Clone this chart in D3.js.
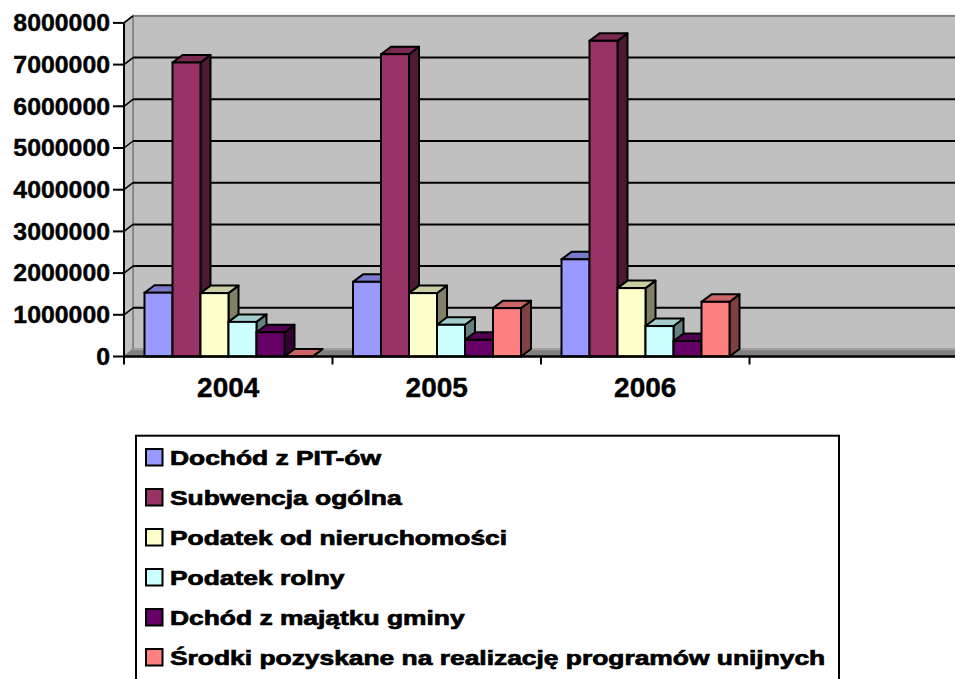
<!DOCTYPE html>
<html>
<head>
<meta charset="utf-8">
<script src="https://cdn.jsdelivr.net/npm/d3@7/dist/d3.min.js"></script>
<style>
  html, body { margin: 0; padding: 0; background: #ffffff; }
  svg { display: block; }
  text { font-family: "Liberation Sans", Arial, sans-serif; font-weight: bold; fill: #000; }
</style>
</head>
<body>
<svg id="chart" width="955" height="679"></svg>
<script>
// ---------- data ----------
const categories = ["2004", "2005", "2006"];
const seriesNames = [
  "Dochód z PIT-ów",
  "Subwencja ogólna",
  "Podatek od nieruchomości",
  "Podatek rolny",
  "Dchód z majątku gminy",
  "Środki pozyskane na realizację programów unijnych"
];
const pitValues       = [1530000, 1790000, 2330000];
const subwencjaValues = [7050000, 7250000, 7570000];
const nieruchValues   = [1520000, 1520000, 1640000];
const rolnyValues     = [830000, 760000, 730000];
const majatekValues   = [580000, 400000, 370000];
const unijneValues    = [0, 1160000, 1310000];
const seriesColors = ["#9999FF", "#993366", "#FFFFCC", "#CCFFFF", "#660066", "#FF8080"];
const yTicks = [0, 1000000, 2000000, 3000000, 4000000, 5000000, 6000000, 7000000, 8000000];

const seriesValues = [pitValues, subwencjaValues, nieruchValues, rolnyValues, majatekValues, unijneValues];

// ---------- layout ----------
const W = 955, H = 679;
const svg = d3.select("#chart");
const frontLeft = 124;
const bandW = 208.5;
const wallDx = 9, wallDy = -7;
const barDx = 10, barDy = -7.5;

const y = d3.scaleLinear().domain([0, 8000000]).range([356.5, 22.9]);
const x = d3.scaleBand().domain(categories).range([frontLeft, frontLeft + bandW * categories.length]).padding(0);
const xInner = d3.scaleBand().domain(seriesNames).range([20.5, 188.5]).padding(0);

// ---------- walls ----------
const backL = frontLeft + wallDx;
const backTop = y(8000000) + wallDy;
const backBot = y(0) + wallDy;

svg.append("rect")
  .attr("x", backL).attr("y", backTop)
  .attr("width", W - backL + 5).attr("height", backBot - backTop)
  .attr("fill", "#c0c0c0").attr("stroke", "#808080").attr("stroke-width", 2);

svg.append("path")
  .attr("d", `M${frontLeft},${y(8000000)} L${backL},${backTop} L${backL},${backBot} L${frontLeft},${y(0)} Z`)
  .attr("fill", "#c0c0c0").attr("stroke", "#808080").attr("stroke-width", 1.5);

svg.append("path")
  .attr("d", `M${frontLeft},${y(0)} L${backL},${backBot} L${W + 5},${backBot} L${W + 5},${y(0)} Z`)
  .attr("fill", "#808080").attr("stroke", "#a0a0a0").attr("stroke-width", 1.5);

const gridTicks = yTicks.filter(t => t > 0 && t < 8000000);
svg.append("g").selectAll("line.grid").data(gridTicks).join("line")
  .attr("x1", backL).attr("x2", W + 5)
  .attr("y1", d => y(d) + wallDy).attr("y2", d => y(d) + wallDy)
  .attr("stroke", "#000").attr("stroke-width", 2);
svg.append("g").selectAll("line.diag").data(yTicks).join("line")
  .attr("x1", frontLeft).attr("x2", backL)
  .attr("y1", d => y(d)).attr("y2", d => y(d) + wallDy)
  .attr("stroke", d => (d === 0 ? "#808080" : "#000")).attr("stroke-width", 1.5);

// ---------- bars ----------
function shade(c, k) {
  const r = d3.rgb(c);
  return d3.rgb(r.r * k, r.g * k, r.b * k).formatHex();
}

const barsG = svg.append("g");
categories.forEach((cat, ci) => {
  seriesNames.forEach((name, si) => {
    const v = seriesValues[si][ci];
    const x0 = x(cat) + xInner(name);
    const x1 = x0 + xInner.bandwidth();
    const yt = y(v), yb = y(0);
    const col = seriesColors[si];
    const g = barsG.append("g");
    g.append("path")
      .attr("d", `M${x1},${yb} L${x1},${yt} L${x1 + barDx},${yt + barDy} L${x1 + barDx},${yb + barDy} Z`)
      .attr("fill", shade(col, 0.5)).attr("stroke", "#000").attr("stroke-width", 2).attr("stroke-linejoin", "round");
    g.append("path")
      .attr("d", `M${x0},${yt} L${x0 + barDx},${yt + barDy} L${x1 + barDx},${yt + barDy} L${x1},${yt} Z`)
      .attr("fill", shade(col, 0.8)).attr("stroke", "#000").attr("stroke-width", 2).attr("stroke-linejoin", "round");
    if (v > 0) {
      g.append("rect")
        .attr("x", x0).attr("y", yt)
        .attr("width", xInner.bandwidth()).attr("height", yb - yt)
        .attr("fill", col).attr("stroke", "#000").attr("stroke-width", 2);
    }
  });
});

// ---------- axes ----------
svg.append("line")
  .attr("x1", frontLeft).attr("x2", frontLeft)
  .attr("y1", y(8000000)).attr("y2", y(0) + 1)
  .attr("stroke", "#000").attr("stroke-width", 2);
svg.append("g").selectAll("line").data(yTicks).join("line")
  .attr("x1", frontLeft - 11).attr("x2", frontLeft)
  .attr("y1", d => y(d)).attr("y2", d => y(d))
  .attr("stroke", "#000").attr("stroke-width", 2);
svg.append("g").selectAll("text").data(yTicks).join("text")
  .attr("transform", d => `translate(110,${y(d) + 8.2}) scale(1.08,1)`)
  .attr("text-anchor", "end")
  .attr("font-size", 23)
  .attr("stroke", "#000").attr("stroke-width", 0.4)
  .text(d => d3.format("d")(d));

svg.append("line")
  .attr("x1", frontLeft).attr("x2", W + 5)
  .attr("y1", y(0)).attr("y2", y(0))
  .attr("stroke", "#000").attr("stroke-width", 2.5);
const xTickPos = d3.range(categories.length + 2).map(i => frontLeft + i * bandW);
svg.append("g").selectAll("line").data(xTickPos).join("line")
  .attr("x1", d => d).attr("x2", d => d)
  .attr("y1", y(0)).attr("y2", y(0) + 8)
  .attr("stroke", "#000").attr("stroke-width", 2);
svg.append("g").selectAll("text").data(categories).join("text")
  .attr("x", d => x(d) + x.bandwidth() / 2)
  .attr("y", 396.7)
  .attr("text-anchor", "middle")
  .attr("font-size", 28)
  .attr("stroke", "#000").attr("stroke-width", 0.4)
  .text(d => d);

// ---------- legend ----------
const legend = svg.append("g");
legend.append("rect")
  .attr("x", 136).attr("y", 435.7)
  .attr("width", 839 - 136).attr("height", 260)
  .attr("fill", "#fff").attr("stroke", "#000").attr("stroke-width", 2);
const rows = legend.selectAll("g.row").data(seriesNames).join("g")
  .attr("transform", (d, i) => `translate(0,${458 + i * 40})`);
rows.append("rect")
  .attr("x", 146).attr("y", -9).attr("width", 16.5).attr("height", 16.5)
  .attr("fill", (d, i) => seriesColors[i]).attr("stroke", "#000").attr("stroke-width", 2);
rows.append("text")
  .attr("transform", "translate(170,7.2) scale(1.3,1)")
  .attr("font-size", 20.3)
  .attr("stroke", "#000").attr("stroke-width", 0.7)
  .text(d => d);
</script>
</body>
</html>
